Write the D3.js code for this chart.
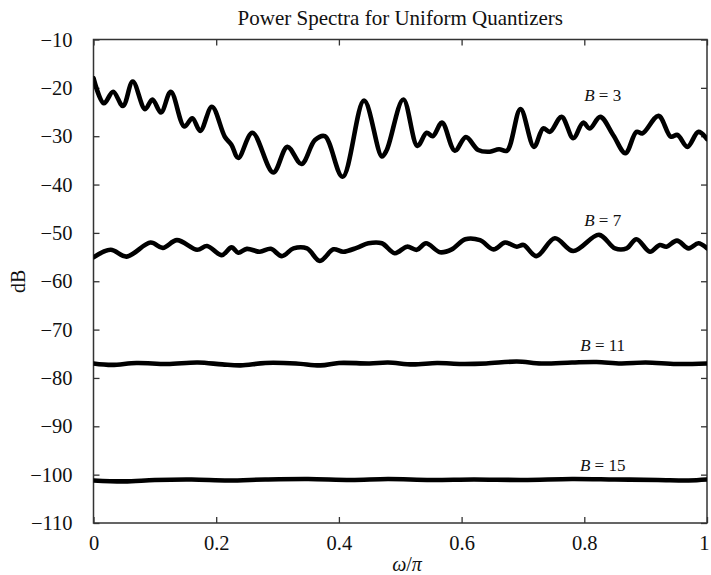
<!DOCTYPE html>
<html>
<head>
<meta charset="utf-8">
<script src="https://cdn.jsdelivr.net/npm/d3@7"></script>
<style>
  html, body { margin: 0; padding: 0; background: #fff; }
  svg { display: block; }
  text { font-family: "Liberation Serif", "Times New Roman", serif; fill: #111; }
</style>
</head>
<body>
<svg id="chart" width="711" height="575"></svg>
<script>
// Normalized frequency (omega/pi) and power in dB for each word length B
const b3Freq = [0, 0.017, 0.032, 0.048, 0.064, 0.084, 0.096, 0.110, 0.126, 0.148, 0.161, 0.174, 0.193, 0.214, 0.225, 0.236, 0.259, 0.293, 0.316, 0.339, 0.361, 0.377, 0.406, 0.441, 0.470, 0.478, 0.505, 0.528, 0.543, 0.553, 0.568, 0.589, 0.607, 0.627, 0.646, 0.661, 0.674, 0.696, 0.718, 0.733, 0.744, 0.763, 0.782, 0.798, 0.809, 0.826, 0.847, 0.867, 0.885, 0.895, 0.921, 0.941, 0.952, 0.968, 0.986, 1.0];
const b3Power = [-18.0, -23.2, -20.8, -23.75, -18.7, -24.4, -22.4, -25.1, -20.8, -28.0, -26.3, -28.9, -23.9, -30.1, -31.8, -34.5, -29.3, -37.5, -32.2, -35.75, -30.8, -30.0, -38.4, -22.65, -34.2, -32.85, -22.4, -32.0, -29.3, -30.0, -27.2, -33.0, -30.2, -32.85, -33.2, -32.7, -33.0, -24.4, -32.2, -28.4, -29.1, -26.0, -30.4, -27.2, -28.4, -26.0, -29.75, -33.5, -29.1, -29.4, -25.8, -30.1, -29.75, -32.2, -29.1, -30.6];

const b7Freq = [0, 0.028, 0.054, 0.093, 0.113, 0.136, 0.169, 0.185, 0.209, 0.225, 0.236, 0.250, 0.271, 0.289, 0.307, 0.326, 0.348, 0.369, 0.391, 0.407, 0.429, 0.448, 0.470, 0.491, 0.511, 0.527, 0.542, 0.565, 0.584, 0.606, 0.630, 0.652, 0.671, 0.690, 0.701, 0.722, 0.752, 0.782, 0.824, 0.850, 0.869, 0.885, 0.907, 0.923, 0.934, 0.951, 0.970, 0.986, 1.0];
const b7Power = [-55.05, -53.5, -54.9, -52.0, -53.1, -51.5, -53.5, -52.7, -54.6, -53.0, -54.1, -53.3, -53.9, -53.3, -54.8, -53.2, -53.2, -55.8, -53.4, -53.9, -53.1, -52.15, -52.15, -54.2, -52.85, -53.5, -52.15, -54.0, -53.4, -51.3, -51.5, -53.4, -52.0, -52.85, -52.5, -54.8, -51.1, -53.75, -50.4, -53.2, -53.2, -51.3, -53.9, -52.5, -52.85, -51.6, -53.2, -52.15, -53.2];

const b11Freq = [0, 0.03, 0.07, 0.12, 0.17, 0.21, 0.24, 0.28, 0.33, 0.37, 0.40, 0.45, 0.48, 0.52, 0.56, 0.60, 0.64, 0.69, 0.73, 0.78, 0.82, 0.86, 0.90, 0.95, 1.0];
const b11Power = [-77.0, -77.3, -76.9, -77.1, -76.8, -77.2, -77.4, -76.9, -77.0, -77.4, -76.9, -77.0, -76.8, -77.2, -76.9, -77.1, -77.0, -76.6, -77.0, -76.8, -76.7, -77.0, -76.8, -77.1, -77.0];

const b15Freq = [0, 0.05, 0.10, 0.16, 0.22, 0.28, 0.35, 0.42, 0.48, 0.55, 0.62, 0.70, 0.78, 0.85, 0.92, 0.97, 1.0];
const b15Power = [-101.2, -101.4, -101.1, -101.0, -101.2, -101.0, -100.9, -101.1, -100.9, -101.1, -101.0, -101.1, -100.9, -101.0, -101.1, -101.2, -101.0];

const seriesBits = ["3", "7", "11", "15"];

const xTicks = [0, 0.2, 0.4, 0.6, 0.8, 1];
const yTicks = [-10, -20, -30, -40, -50, -60, -70, -80, -90, -100, -110];

const titleText = "Power Spectra for Uniform Quantizers";
const yLabelText = "dB";

const series = [
  { bits: seriesBits[0], freq: b3Freq, power: b3Power },
  { bits: seriesBits[1], freq: b7Freq, power: b7Power },
  { bits: seriesBits[2], freq: b11Freq, power: b11Power },
  { bits: seriesBits[3], freq: b15Freq, power: b15Power }
];

// Label anchors (frequency, dB) placed just above each trace
const labelAnchors = [
  { f: 0.83, db: -22.7 },
  { f: 0.83, db: -48.6 },
  { f: 0.83, db: -74.4 },
  { f: 0.83, db: -99.2 }
];

const svg = d3.select("#chart");
const W = 711, H = 575;
const margin = { left: 93.5, right: W - 707, top: 39.5, bottom: H - 523 };
const iw = W - margin.left - margin.right;
const ih = H - margin.top - margin.bottom;

const x = d3.scaleLinear().domain([0, 1]).range([margin.left, margin.left + iw]);
const y = d3.scaleLinear().domain([-110, -10]).range([margin.top + ih, margin.top]);

const axisColor = "#333";
const fontSize = 20.5;

// Bottom axis with inward ticks
const gx = svg.append("g")
  .attr("transform", `translate(0,${margin.top + ih})`)
  .call(d3.axisBottom(x).tickValues(xTicks).tickSizeInner(-6).tickSizeOuter(0).tickPadding(12)
    .tickFormat(d => d === 0 ? "0" : d === 1 ? "1" : d3.format(".1f")(d)));
gx.select(".domain").remove();
gx.selectAll(".tick line").attr("stroke", axisColor).attr("stroke-width", 1.3);
gx.selectAll(".tick text").style("font-size", fontSize + "px").attr("font-family", null);
// keep the last label inside the page edge
gx.selectAll(".tick text").filter(d => d === 1).attr("text-anchor", "end").attr("dx", 2);

// Top axis: mirrored ticks, no labels
const gxt = svg.append("g")
  .attr("transform", `translate(0,${margin.top})`)
  .call(d3.axisTop(x).tickValues(xTicks).tickSizeInner(-6).tickSizeOuter(0).tickFormat(""));
gxt.select(".domain").remove();
gxt.selectAll(".tick line").attr("stroke", axisColor).attr("stroke-width", 1.3);

// Left axis with inward ticks
const gy = svg.append("g")
  .attr("transform", `translate(${margin.left},0)`)
  .call(d3.axisLeft(y).tickValues(yTicks).tickSizeInner(-6).tickSizeOuter(0).tickPadding(21));
gy.select(".domain").remove();
gy.selectAll(".tick line").attr("stroke", axisColor).attr("stroke-width", 1.3);
gy.selectAll(".tick text").style("font-size", fontSize + "px").attr("font-family", null);

// Right axis: mirrored ticks, no labels
const gyr = svg.append("g")
  .attr("transform", `translate(${margin.left + iw},0)`)
  .call(d3.axisRight(y).tickValues(yTicks).tickSizeInner(-6).tickSizeOuter(0).tickFormat(""));
gyr.select(".domain").remove();
gyr.selectAll(".tick line").attr("stroke", axisColor).attr("stroke-width", 1.3);

// Plot frame
svg.append("rect")
  .attr("x", margin.left).attr("y", margin.top)
  .attr("width", iw).attr("height", ih)
  .attr("fill", "none").attr("stroke", axisColor).attr("stroke-width", 1.5);

// Spectrum traces
const line = d3.line()
  .x(d => x(d[0]))
  .y(d => y(d[1]))
  .curve(d3.curveCatmullRom.alpha(0.5));

svg.append("clipPath").attr("id", "plotclip")
  .append("rect").attr("x", margin.left).attr("y", margin.top).attr("width", iw).attr("height", ih);

svg.append("g").attr("clip-path", "url(#plotclip)")
  .selectAll("path.trace")
  .data(series)
  .join("path")
  .attr("class", "trace")
  .attr("d", s => line(s.freq.map((f, i) => [f, s.power[i]])))
  .attr("fill", "none")
  .attr("stroke", "#000")
  .attr("stroke-width", 4.6)
  .attr("stroke-linejoin", "round")
  .attr("stroke-linecap", "round");

// Trace labels: italic B, upright "= n"
series.forEach((s, i) => {
  const t = svg.append("text")
    .attr("x", x(labelAnchors[i].f))
    .attr("y", y(labelAnchors[i].db))
    .attr("text-anchor", "middle")
    .style("font-size", "17px");
  t.append("tspan").attr("font-style", "italic").text("B");
  t.append("tspan").text(" = " + s.bits);
});

// Title
svg.append("text")
  .attr("x", margin.left + iw / 2)
  .attr("y", 24.5)
  .attr("text-anchor", "middle")
  .style("font-size", "21px")
  .text(titleText);

// X-axis label: omega / pi
const xl = svg.append("text")
  .attr("x", 407)
  .attr("y", 571)
  .attr("text-anchor", "middle")
  .style("font-size", "20px");
xl.append("tspan").attr("font-style", "italic").text("ω");
xl.append("tspan").text("/");
xl.append("tspan").attr("font-style", "italic").text("π");

// Y-axis label
svg.append("text")
  .attr("transform", `translate(25,${margin.top + ih / 2}) rotate(-90)`)
  .attr("text-anchor", "middle")
  .style("font-size", "20px")
  .text(yLabelText);
</script>
</body>
</html>
